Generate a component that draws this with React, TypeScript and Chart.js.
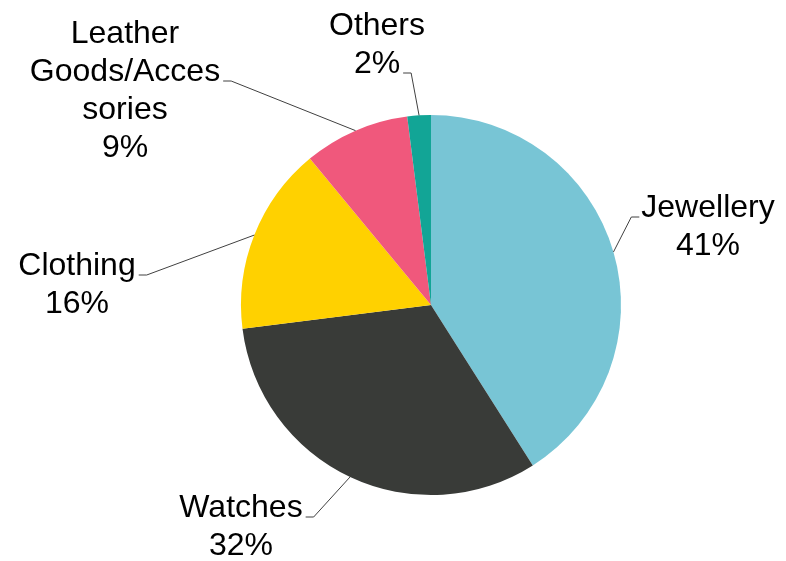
import React, { useEffect, useRef } from "react";
import { Chart, registerables } from "chart.js";

Chart.register(...registerables);

const categories = ["Jewellery", "Watches", "Clothing", "Leather Goods/Accessories", "Others"];
const shares = [41, 32, 16, 9, 2];
const labelLines = [
  ["Jewellery", "41%"],
  ["Watches", "32%"],
  ["Clothing", "16%"],
  ["Leather", "Goods/Acces", "sories", "9%"],
  ["Others", "2%"],
];
const colors = ["#78C5D5", "#393B38", "#FFD100", "#F0587C", "#12A596"];

// label placement relative to pie centre (px), attach line index, leader side
const labelOffsets = [
  { dx: 277, dy: -88, line: 0, side: "left" },
  { dx: -190, dy: 212, line: 0, side: "right" },
  { dx: -354, dy: -30, line: 0, side: "right" },
  { dx: -306, dy: -262, line: 1, side: "right" },
  { dx: -54, dy: -270, line: 1, side: "right" },
];

const FONT = "32px 'Liberation Sans', Arial, sans-serif";
const LINE_H = 38;

const labelPlugin = {
  id: "pieLabels",
  afterDraw(chart: any) {
    const ctx = chart.ctx;
    const meta = chart.getDatasetMeta(0);
    ctx.save();
    ctx.font = FONT;
    ctx.fillStyle = "#000";
    ctx.textAlign = "center";
    ctx.textBaseline = "alphabetic";
    meta.data.forEach((arc: any, i: number) => {
      const { x, y, startAngle, endAngle, outerRadius } = arc.getProps(
        ["x", "y", "startAngle", "endAngle", "outerRadius"],
        true
      );
      const mid = (startAngle + endAngle) / 2;
      const ax = x + Math.cos(mid) * outerRadius;
      const ay = y + Math.sin(mid) * outerRadius;
      const o = labelOffsets[i];
      const lx = x + o.dx;
      const ly = y + o.dy;
      const lines = labelLines[i];
      lines.forEach((t, k) => ctx.fillText(t, lx, ly + k * LINE_H));
      const attachText = lines[o.line];
      const w = ctx.measureText(attachText).width;
      const by = ly + o.line * LINE_H;
      let hx1: number, hx2: number;
      if (o.side === "left") {
        hx1 = lx - w / 2 - 2;
        hx2 = hx1 - 8;
      } else {
        hx1 = lx + w / 2 + 3;
        hx2 = hx1 + 8;
      }
      ctx.beginPath();
      ctx.strokeStyle = "#404040";
      ctx.lineWidth = 1;
      ctx.moveTo(hx1, by);
      ctx.lineTo(hx2, by);
      ctx.lineTo(ax, ay);
      ctx.stroke();
    });
    ctx.restore();
  },
};

export default function App() {
  const ref = useRef<HTMLCanvasElement | null>(null);
  useEffect(() => {
    if (!ref.current) return;
    const chart = new Chart(ref.current, {
      type: "pie",
      data: {
        labels: categories,
        datasets: [
          {
            data: shares,
            backgroundColor: colors,
            borderWidth: 0,
          },
        ],
      },
      options: {
        responsive: false,
        animation: false,
        layout: { padding: { left: 241, right: 165, top: 115, bottom: 66 } },
        plugins: {
          legend: { display: false },
          tooltip: { enabled: false },
        },
      },
      plugins: [labelPlugin],
    });
    return () => chart.destroy();
  }, []);
  return (
    <div style={{ position: "absolute", left: 0, top: 0, width: 786, height: 561, background: "#fff" }}>
      <canvas ref={ref} width={786} height={561} style={{ display: "block" }} />
    </div>
  );
}
